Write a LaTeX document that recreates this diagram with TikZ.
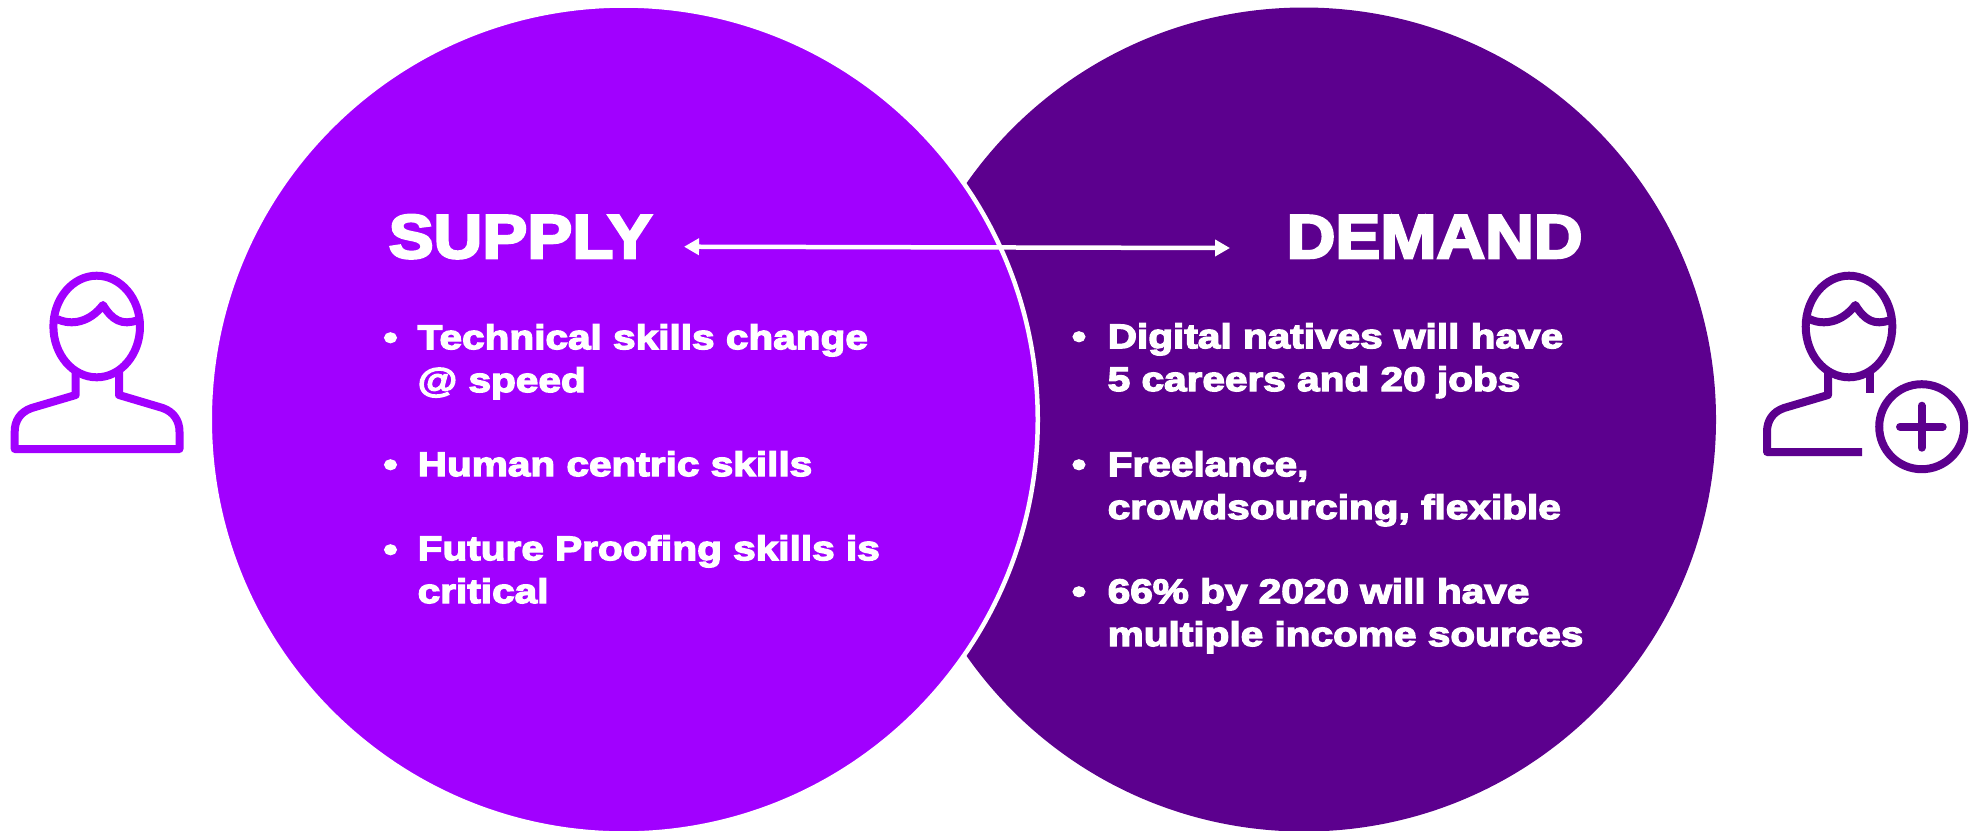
\documentclass[tikz,border=0pt]{standalone}
\usepackage{fontspec}
\usetikzlibrary{arrows.meta}
\newfontfamily\headfont[FakeStretch=1.09,FakeBold=4]{Liberation Sans Bold}
\newfontfamily\skillfont[FakeStretch=1.19,FakeBold=4]{Liberation Sans Bold}
\definecolor{supplycol}{HTML}{A100FF}
\definecolor{demandcol}{HTML}{5C008E}
\begin{document}
\begin{tikzpicture}
        \tikzset{heading/.style = {anchor=base west,inner sep=0pt,text=white,font=\headfont\fontsize{17.6pt}{20pt}\selectfont}}
        \tikzset{skill/.style = {anchor=base west,inner sep=0pt,text=white,align=left,font=\skillfont\fontsize{9.7pt}{12.2pt}\selectfont}}
        \tikzset{dot/.style = {anchor=base,inner sep=0pt,text=white,font=\skillfont\fontsize{9.7pt}{12.2pt}\selectfont}}
        \tikzset{link/.style = {{Triangle[length=0.15cm,width=0.16cm]}-{Triangle[length=0.15cm,width=0.16cm]},white,line width=0.045cm}}
        \tikzset{icon/.style = {line width=0.08cm,line join=round,fill=none}}
        \useasboundingbox (0,0) rectangle (19.78,8.30);
        % the two circles
        \fill[demandcol] (13.04,4.105) circle (4.12);
        \draw[white,line width=0.045cm,fill=supplycol] (6.2375,4.105) circle (4.14);
        % headings
        \node[heading] (supply) at (3.88,5.72) {SUPPLY};
        \node[heading] (demand) at (12.86,5.72) {DEMAND};
        \coordinate (supplytip) at (6.84,5.833);
        \coordinate (demandtip) at (12.30,5.82);
        \draw[link] (supplytip) to (demandtip);
        % skills on the left
        \node[dot] (d1) at (3.905,4.81) {•};
        \node[skill] (s1) at (4.17,4.38) {Technical skills change\\@ speed};
        \node[dot] (d2) at (3.905,3.54) {•};
        \node[skill] (s2) at (4.17,3.54) {Human centric skills};
        \node[dot] (d3) at (3.905,2.69) {•};
        \node[skill] (s3) at (4.17,2.27) {Future Proofing skills is\\critical};
        % skills on the right
        \node[dot] (d4) at (10.79,4.82) {•};
        \node[skill] (s4) at (11.07,4.39) {Digital natives will have\\5 careers and 20 jobs};
        \node[dot] (d5) at (10.79,3.54) {•};
        \node[skill] (s5) at (11.07,3.11) {Freelance,\\crowdsourcing, flexible};
        \node[dot] (d6) at (10.79,2.27) {•};
        \node[skill] (s6) at (11.07,1.84) {66\% by 2020 will have\\multiple income sources};
        % person on the left
        \draw[icon,supplycol] (0.967,5.035) ellipse (0.433 and 0.508);
        \draw[icon,supplycol] (0.57,5.11) .. controls (0.72,5.04) and (0.90,5.08) .. (1.03,5.25) .. controls (1.12,5.10) and (1.22,5.04) .. (1.38,5.10);
        \draw[icon,supplycol] (0.757,4.58) -- (0.757,4.35) -- (0.317,4.22) .. controls (0.20,4.18) and (0.147,4.09) .. (0.147,3.983) -- (0.147,3.81) -- (1.795,3.81) -- (1.795,3.983) .. controls (1.795,4.09) and (1.74,4.18) .. (1.627,4.22) -- (1.19,4.35) -- (1.19,4.58);
        % person on the right
        \draw[icon,demandcol] (18.49,5.035) ellipse (0.433 and 0.508);
        \draw[icon,demandcol] (18.093,5.11) .. controls (18.243,5.04) and (18.423,5.08) .. (18.553,5.25) .. controls (18.643,5.10) and (18.743,5.04) .. (18.903,5.10);
        \draw[icon,demandcol] (18.28,4.58) -- (18.28,4.35) -- (17.84,4.22) .. controls (17.723,4.18) and (17.67,4.09) .. (17.67,3.983) -- (17.67,3.78) -- (18.62,3.78);
        \draw[icon,demandcol] (18.703,4.58) -- (18.703,4.373);
        \draw[icon,demandcol] (19.217,4.033) circle (0.425);
        \draw[icon,demandcol,line cap=round] (19.00,4.033) -- (19.427,4.033);
        \draw[icon,demandcol,line cap=round] (19.217,4.243) -- (19.217,3.823);
\end{tikzpicture}
\end{document}
